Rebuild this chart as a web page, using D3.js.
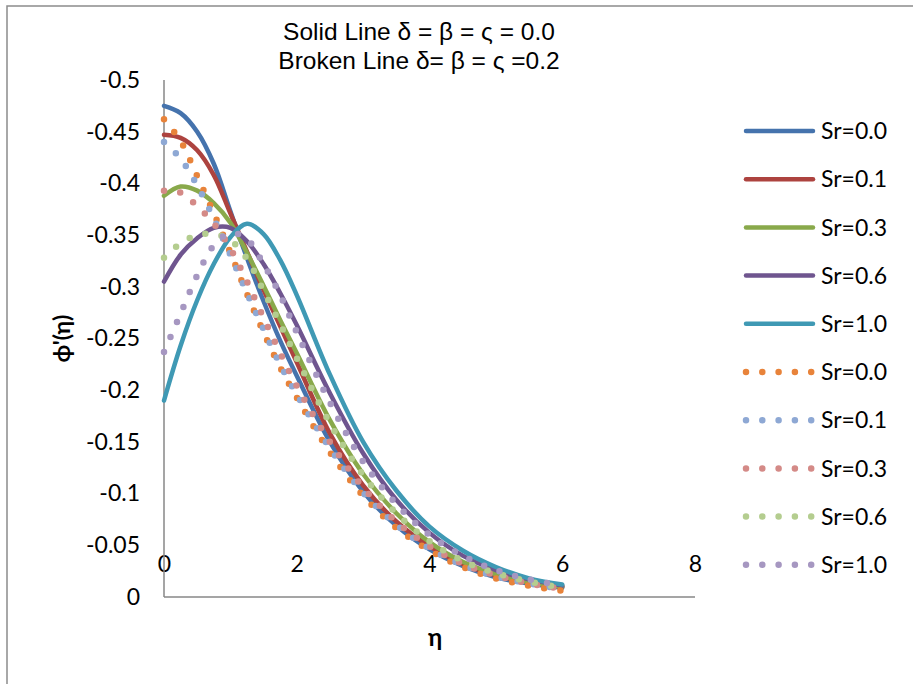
<!DOCTYPE html>
<html>
<head>
<meta charset="utf-8">
<script src="https://cdn.jsdelivr.net/npm/d3@7"></script>
<style>
  body { margin: 0; background: #fff; }
  svg { display: block; }
  .tick text { font-family: Lato, "Noto Sans", sans-serif; font-size: 23px; fill: #000; }
</style>
</head>
<body>
<div id="chart"></div>
<script>
// eta grid shared by every series
const eta = [0, 0.25, 0.5, 0.75, 1, 1.25, 1.5, 1.75, 2, 2.5, 3, 3.5, 4, 4.5, 5, 5.5, 6];

// solid lines: delta = beta = varsigma = 0.0
const solidSr00 = [-0.475, -0.468, -0.450, -0.419, -0.373, -0.328, -0.286, -0.248, -0.214, -0.150, -0.102, -0.069, -0.046, -0.030, -0.019, -0.013, -0.009];
const solidSr01 = [-0.447, -0.444, -0.432, -0.408, -0.371, -0.334, -0.297, -0.262, -0.227, -0.158, -0.108, -0.073, -0.049, -0.032, -0.021, -0.014, -0.010];
const solidSr03 = [-0.388, -0.397, -0.393, -0.381, -0.362, -0.333, -0.301, -0.268, -0.236, -0.171, -0.119, -0.081, -0.053, -0.034, -0.022, -0.014, -0.010];
const solidSr06 = [-0.305, -0.331, -0.347, -0.357, -0.357, -0.344, -0.322, -0.294, -0.263, -0.197, -0.139, -0.094, -0.062, -0.040, -0.026, -0.017, -0.011];
const solidSr10 = [-0.190, -0.243, -0.287, -0.322, -0.348, -0.361, -0.351, -0.326, -0.292, -0.215, -0.150, -0.103, -0.068, -0.045, -0.029, -0.018, -0.012];

// broken lines: delta = beta = varsigma = 0.2
const dotSr00 = [-0.462, -0.441, -0.407, -0.371, -0.333, -0.293, -0.256, -0.222, -0.193, -0.140, -0.098, -0.067, -0.045, -0.029, -0.018, -0.011, -0.006];
const dotSr01 = [-0.440, -0.424, -0.398, -0.366, -0.331, -0.294, -0.259, -0.225, -0.196, -0.144, -0.101, -0.070, -0.047, -0.031, -0.020, -0.013, -0.008];
const dotSr03 = [-0.393, -0.391, -0.378, -0.361, -0.337, -0.305, -0.270, -0.236, -0.204, -0.150, -0.106, -0.073, -0.049, -0.032, -0.021, -0.013, -0.008];
const dotSr06 = [-0.328, -0.342, -0.350, -0.351, -0.345, -0.327, -0.296, -0.264, -0.231, -0.168, -0.118, -0.081, -0.054, -0.035, -0.023, -0.015, -0.009];
const dotSr10 = [-0.237, -0.274, -0.311, -0.340, -0.352, -0.346, -0.322, -0.292, -0.256, -0.188, -0.131, -0.090, -0.060, -0.040, -0.026, -0.017, -0.011];

const seriesNames = ["Sr=0.0", "Sr=0.1", "Sr=0.3", "Sr=0.6", "Sr=1.0", "Sr=0.0", "Sr=0.1", "Sr=0.3", "Sr=0.6", "Sr=1.0"];
const seriesValues = [solidSr00, solidSr01, solidSr03, solidSr06, solidSr10, dotSr00, dotSr01, dotSr03, dotSr06, dotSr10];
const seriesColors = ["#4573ad", "#ad433f", "#89a94b", "#6f558f", "#3f99b4",
                      "#e8833a", "#8ea8d4", "#d48a87", "#b4cd8f", "#a697c1"];

const xTicks = [0, 2, 4, 6, 8];
const yTicks = [0, -0.05, -0.1, -0.15, -0.2, -0.25, -0.3, -0.35, -0.4, -0.45, -0.5];

const W = 913, H = 684;
const svg = d3.select("#chart").append("svg").attr("width", W).attr("height", H);

// chart frame
svg.append("rect")
  .attr("x", 7).attr("y", 6)
  .attr("width", W + 20).attr("height", H + 20)
  .attr("fill", "none").attr("stroke", "#8c8c8c").attr("stroke-width", 1.5);

const x = d3.scaleLinear().domain([0, 8]).range([164, 695]);
const y = d3.scaleLinear().domain([0, -0.5]).range([597, 80]);

// y tick labels
svg.append("g")
  .attr("transform", `translate(${x(0)},0)`)
  .call(d3.axisLeft(y).tickValues(yTicks).tickSize(0).tickPadding(24)
    .tickFormat((d) => (d === 0 ? "0" : String(d))))
  .call((g) => g.select(".domain").remove());

// x tick labels (they sit above the zero line, as in the original)
svg.append("g")
  .attr("transform", `translate(0,${y(0) - 25})`)
  .call(d3.axisTop(x).tickValues(xTicks).tickSize(0).tickPadding(0))
  .call((g) => g.select(".domain").remove());

// axis lines
svg.append("line")
  .attr("x1", x(0)).attr("x2", x(0)).attr("y1", y(-0.5)).attr("y2", y(0))
  .attr("stroke", "#878787").attr("stroke-width", 1.5);
svg.append("line")
  .attr("x1", x(0)).attr("x2", x(8)).attr("y1", y(0)).attr("y2", y(0))
  .attr("stroke", "#878787").attr("stroke-width", 1.5);

const line = d3.line()
  .x((d) => x(d[0]))
  .y((d) => y(d[1]))
  .curve(d3.curveCatmullRom.alpha(0.5));

seriesValues.forEach((vals, i) => {
  const dotted = i >= 5;
  svg.append("path")
    .datum(eta.map((e, j) => [e, vals[j]]))
    .attr("d", line)
    .attr("fill", "none")
    .attr("stroke", seriesColors[i])
    .attr("stroke-width", dotted ? 6.5 : 4.5)
    .attr("stroke-linecap", "round")
    .attr("stroke-dasharray", dotted ? "0 16.3" : null);
});

// legend
const legend = svg.append("g");
seriesNames.forEach((name, i) => {
  const dotted = i >= 5;
  const ly = 131 + i * 48.2;
  legend.append("line")
    .attr("x1", 746).attr("x2", 813).attr("y1", ly).attr("y2", ly)
    .attr("stroke", seriesColors[i])
    .attr("stroke-width", dotted ? 6.5 : 4.5)
    .attr("stroke-linecap", "round")
    .attr("stroke-dasharray", dotted ? "0 16.3" : null);
  legend.append("text")
    .attr("x", 821).attr("y", ly).attr("dy", "0.36em")
    .style("font-family", "Lato, 'Noto Sans', sans-serif")
    .style("font-size", "23px")
    .text(name);
});

// title
const title = svg.append("text")
  .attr("text-anchor", "middle")
  .style("font-family", "'Liberation Sans', Arial, sans-serif")
  .style("font-size", "24.5px");
title.append("tspan").attr("x", 419).attr("y", 40).text("Solid Line δ = β = ς = 0.0");
title.append("tspan").attr("x", 419).attr("y", 69).text("Broken Line δ= β = ς =0.2");

// axis titles
svg.append("text")
  .attr("transform", `translate(70,${y(-0.25)}) rotate(-90)`)
  .attr("text-anchor", "middle")
  .style("font-family", "Lato, 'Noto Sans', sans-serif")
  .style("font-size", "23px")
  .style("font-weight", "bold")
  .text("ϕ'(η)");

svg.append("text")
  .attr("x", 435).attr("y", 646)
  .attr("text-anchor", "middle")
  .style("font-family", "Lato, 'Noto Sans', sans-serif")
  .style("font-size", "24px")
  .style("font-weight", "bold")
  .text("η");
</script>
</body>
</html>
